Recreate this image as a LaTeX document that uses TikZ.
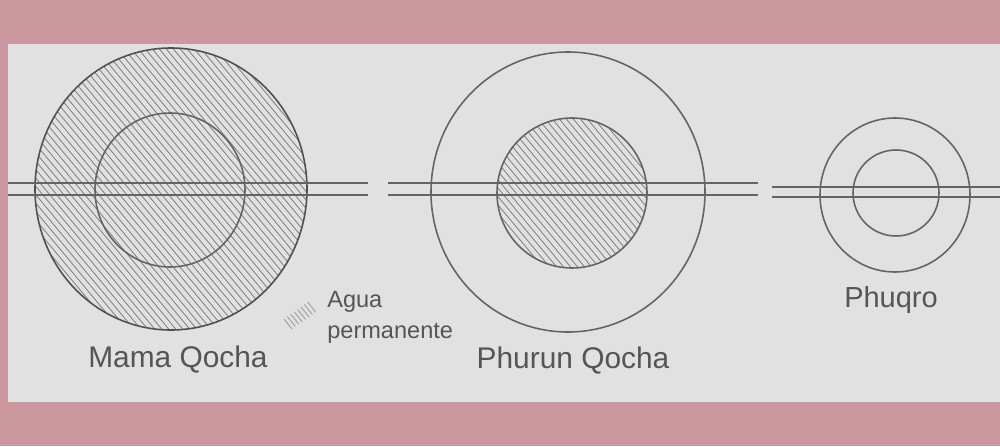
\documentclass[tikz,border=0pt]{standalone}
\usepackage{fontspec}
\setmainfont{Liberation Sans}
\definecolor{pinkc}{RGB}{203,152,160}
\definecolor{bgc}{RGB}{225,225,225}
\definecolor{inkc}{RGB}{100,100,100}
\definecolor{hatchc}{RGB}{125,125,125}
\definecolor{textc}{RGB}{85,85,85}
\begin{document}
\begin{tikzpicture}[x=0.02cm,y=-0.02cm,
  ink/.style={draw=inkc, line width=0.9pt},
  hatch/.style={draw=hatchc, line width=0.45pt},
  pipe/.style={draw=inkc, line width=1.1pt},
  lbl/.style={text=textc, font=\fontsize{17}{20}\selectfont, inner sep=0pt, anchor=base},
  leg/.style={text=textc, font=\fontsize{13.4}{16}\selectfont, inner sep=0pt, anchor=base west}]
\useasboundingbox (0,0) rectangle (1000,446);
\fill[pinkc] (0,0) rectangle (1000,446);
\fill[bgc] (8,44) rectangle (1000,402);

% Mama Qocha: whole disc hatched
\begin{scope}
  \clip (171,189) ellipse [x radius=136, y radius=141];
  \foreach \k in {-45,...,45}
    \draw[hatch] ({171+\k*7-150},{189-180}) -- ({171+\k*7+150},{189+180});
\end{scope}
\draw[ink, draw=inkc!80!black] (171,189) ellipse [x radius=136, y radius=141];
\draw[ink] (170,190) ellipse [x radius=75, y radius=77];

% Phurun Qocha: inner disc hatched
\begin{scope}
  \clip (572,193) circle [radius=75];
  \foreach \k in {-28,...,28}
    \draw[hatch] ({572+\k*7-150},{193-180}) -- ({572+\k*7+150},{193+180});
\end{scope}
\draw[ink] (572,193) circle [radius=75];
\draw[ink] (568,192) ellipse [x radius=137, y radius=140];

% Phuqro
\draw[ink] (895,195) ellipse [x radius=75, y radius=77];
\draw[ink] (896,193) circle [radius=43];

% double lines
\coordinate (a1) at (8,183);   \coordinate (a2) at (368,183);
\coordinate (b1) at (8,195);   \coordinate (b2) at (368,195);
\coordinate (c1) at (388,183); \coordinate (c2) at (758,183);
\coordinate (d1) at (388,195); \coordinate (d2) at (758,195);
\coordinate (e1) at (772,187); \coordinate (e2) at (1000,187);
\coordinate (f1) at (772,197); \coordinate (f2) at (1000,197);
\draw[pipe] (a1) -- (a2);
\draw[pipe] (b1) -- (b2);
\draw[pipe] (c1) -- (c2);
\draw[pipe] (d1) -- (d2);
\draw[pipe] (e1) -- (e2);
\draw[pipe] (f1) -- (f2);

% legend swatch
\foreach \i in {0,...,7}
  \draw[hatch, draw=hatchc!75!bgc] ({284+3.4*\i},{319-2.4*\i}) -- ({292+3.4*\i},{329-2.4*\i});

% labels
\node[lbl] (mama) at (178,367) {Mama Qocha};
\node[lbl] (phurun) at (573,368) {Phurun Qocha};
\node[lbl, font=\fontsize{16.5}{20}\selectfont] (phuqro) at (891,307) {Phuqro};
\node[leg] (agua) at (327,307) {Agua};
\node[leg] (perm) at (327,338) {permanente};
\end{tikzpicture}
\end{document}
